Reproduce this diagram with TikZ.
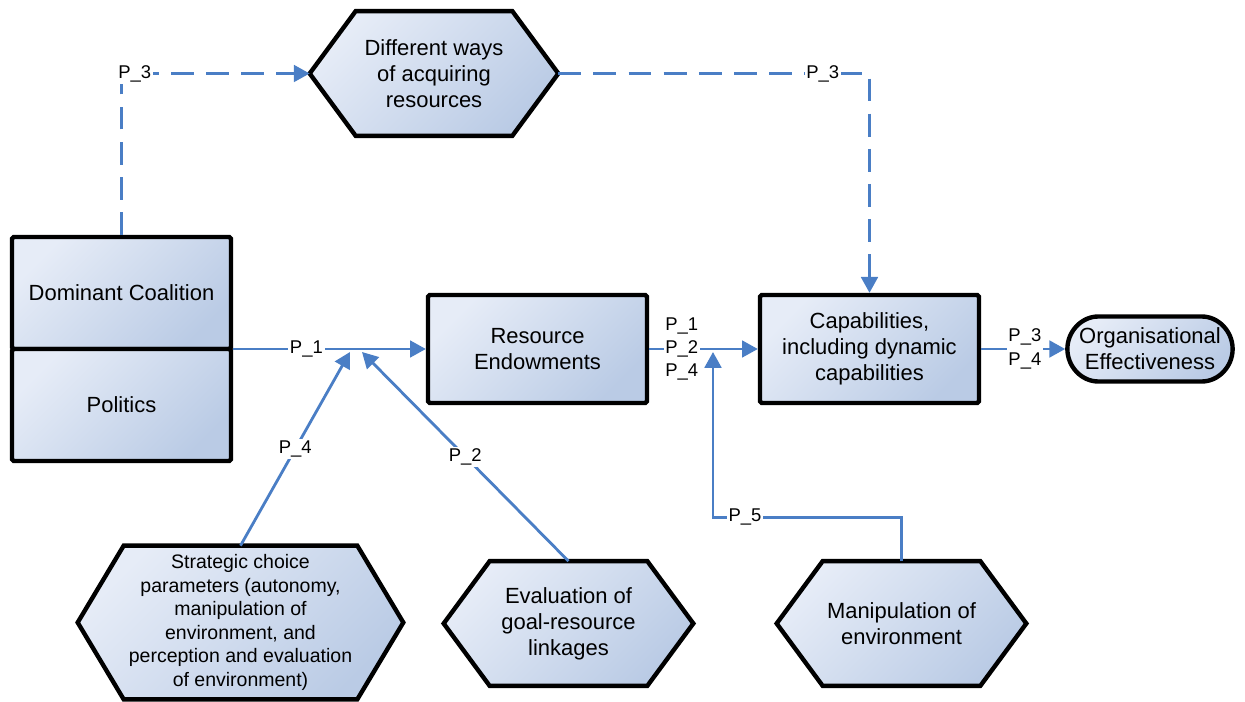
\documentclass[tikz,border=0pt]{standalone}
\usepackage{fontspec}
\setmainfont{Liberation Sans}
\usetikzlibrary{arrows.meta}
\usetikzlibrary{shapes.misc}
\usetikzlibrary{backgrounds}

\definecolor{linkblue}{RGB}{74,126,197}
\definecolor{boxlight}{RGB}{230,236,247}
\definecolor{boxdark}{RGB}{186,203,229}

\tikzset{
  boxfill/.style={top color=boxlight, bottom color=boxdark, shading angle=45},
  block/.style={draw=black, line width=2.5pt, rounded corners=1pt, boxfill, align=center, font=\fontsize{12.5}{14.7}\selectfont},
  hexnode/.style={align=center, font=\fontsize{12.5}{14.7}\selectfont},
  link/.style={draw=linkblue, line width=1.6pt},
  arr/.style={link, -{Triangle[length=9pt,width=9.5pt]}},
  dlink/.style={arr, dash pattern=on 13pt off 7pt},
  plabel/.style={fill=white, inner sep=1pt, font=\fontsize{10.5}{13.3}\selectfont, align=center}
}

\begin{document}
\begin{tikzpicture}[x=0.02cm, y=-0.02cm]

\useasboundingbox (0,0) rectangle (1245,702);

\node[block, minimum width=4.38cm, minimum height=2.24cm] (dom) at (121.5,293) {Dominant Coalition};
\node[block, minimum width=4.38cm, minimum height=2.24cm] (pol) at (121.5,405) {Politics};
\node[block, minimum width=4.38cm, minimum height=2.16cm] (res) at (537.5,349) {Resource\\Endowments};
\node[block, minimum width=4.38cm, minimum height=2.16cm] (cap) at (869.5,349) {Capabilities,\\including dynamic\\capabilities};
\node[block, rounded rectangle, minimum width=3.54cm, minimum height=1.3cm] (oe) at (1150,349) {Organisational\\Effectiveness};

\node[hexnode, minimum width=4.96cm, minimum height=2.48cm] (ways) at (434,73.5) {Different ways\\of acquiring\\resources};
\node[hexnode, minimum width=6.5cm, minimum height=3.06cm, font=\fontsize{11.1}{13.4}\selectfont] (strategic) at (240.5,622.5) {Strategic choice\\parameters (autonomy,\\manipulation of\\environment, and\\perception and evaluation\\of environment)};
\node[hexnode, minimum width=4.98cm, minimum height=2.48cm] (evaluation) at (568.5,623.5) {Evaluation of\\goal-resource\\linkages};
\node[hexnode, minimum width=4.98cm, minimum height=2.48cm] (manip) at (901.5,623.5) {Manipulation of\\environment};

\begin{scope}[on background layer]
\foreach \n in {ways,strategic,evaluation,manip}
  \draw[line width=2.5pt, boxfill] (\n.west) -- ([xshift=0.92cm]\n.north west) -- ([xshift=-0.92cm]\n.north east)
    -- (\n.east) -- ([xshift=-0.92cm]\n.south east) -- ([xshift=0.92cm]\n.south west) -- cycle;
\end{scope}

\coordinate (j4) at (350,352);
\coordinate (j2) at (362,352);
\coordinate (j5) at (713,352);

\draw[arr] (dom.south east |- res.west) -- node[plabel, pos=0.38] {P\_1} (res.west);
\draw[arr] (strategic.north) -- node[plabel] {P\_4} (j4);
\draw[arr] (evaluation.north) -- node[plabel] {P\_2} (j2);
\draw[arr] (res.east) -- node[plabel, pos=0.3] {P\_1\\P\_2\\P\_4} (cap.west);
\draw[arr] (manip.north) -- ++(0,-44) -| node[plabel, pos=0.415] {P\_5} (j5);
\draw[arr] (cap.east) -- node[plabel, pos=0.52] {P\_3\\P\_4} (oe.west);

\draw[dlink] (dom.north) |- node[plabel, pos=0.535] {P\_3} (ways.west);
\draw[dlink] (ways.east) -| node[plabel, pos=0.425] {P\_3} (cap.north);

\end{tikzpicture}
\end{document}
